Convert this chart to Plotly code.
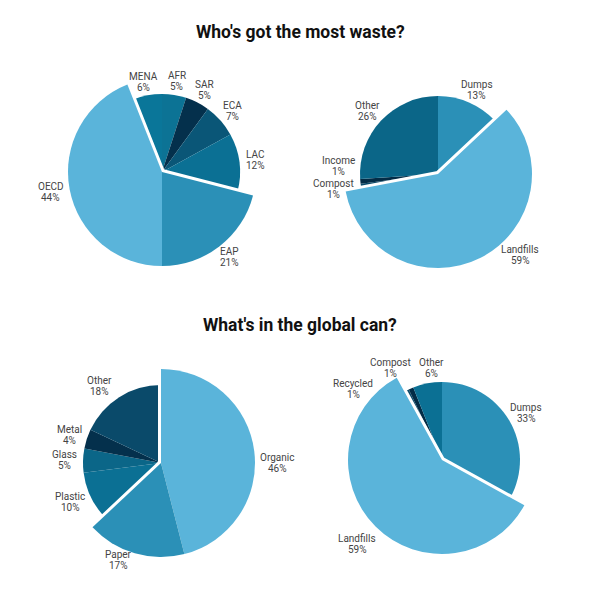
import math
import plotly.graph_objects as go

# ---- data ----
title_top = "Who's got the most waste?"
title_bottom = "What's in the global can?"

c1_labels = ["AFR", "SAR", "ECA", "LAC", "EAP", "OECD", "MENA"]
c1_values = [5, 5, 7, 12, 21, 44, 6]
c1_big = [False, False, False, False, True, True, False]
c1_colors = ["#0c7395", "#04304c", "#0a5677", "#0b7094", "#2b90b7", "#5ab4da", "#0a7699"]

c2_labels = ["Dumps", "Landfills", "Compost", "Income", "Other"]
c2_values = [13, 59, 1, 1, 26]
c2_big = [False, True, False, False, False]
c2_colors = ["#2b90b7", "#5ab4da", "#0a4a6a", "#032c46", "#0b6688"]

c3_labels = ["Organic", "Paper", "Plastic", "Glass", "Metal", "Other"]
c3_values = [46, 17, 10, 5, 4, 18]
c3_big = [True, True, False, False, False, False]
c3_colors = ["#5ab4da", "#2b90b7", "#0b7094", "#0b6688", "#04304c", "#0a4a6a"]

c4_labels = ["Dumps", "Landfills", "Recycled", "Compost", "Other"]
c4_values = [33, 59, 1, 1, 6]
c4_big = [False, True, False, False, False]
c4_colors = ["#2b90b7", "#5ab4da", "#0a4a6a", "#032c46", "#0b7094"]

# ---- layout / style ----
W = H = 600
R_BIG = 94
R_SMALL = 78
LABEL_GAP = 6
LINE_STEP = 11
TRANSP = "rgba(0,0,0,0)"
FONT = "Roboto"
LABEL_COLOR = "#444444"

# manual placement (relative to pie centre, px) for crowded / shifted labels
label_override = {
    (2, "Income"): (-99, -8),
    (2, "Compost"): (-105, 15),
    (2, "Landfills"): (82, 81),
    (3, "Other"): (-62, -77),
    (3, "Organic"): (116, 0),
    (3, "Paper"): (-43, 97),
    (4, "Recycled"): (-89, -71),
    (4, "Compost"): (-52, -92),
    (4, "Other"): (-11, -92),
    (4, "Landfills"): (-85, 84),
}


def text_w(s):
    w = 0.0
    for ch in s:
        if ch in "ilfjt":
            w += 3.2
        elif ch.isupper():
            w += 6.6
        elif ch.isdigit():
            w += 5.6
        elif ch == "%":
            w += 7.3
        else:
            w += 5.3
    return w


def dom(cx, cy, r):
    return dict(x=[(cx - r) / W, (cx + r) / W], y=[1 - (cy + r) / H, 1 - (cy - r) / H])


annotations = []


def add_pie(fig, idx, labels, values, big, colors, cx, cy):
    common = dict(labels=labels, values=values, sort=False, direction="clockwise",
                  rotation=0, showlegend=False, textinfo="none")
    fig.add_trace(go.Pie(
        **common, domain=dom(cx, cy, R_SMALL),
        marker=dict(colors=colors, line=dict(width=0)),
        hoverinfo="label+percent",
    ))
    fig.add_trace(go.Pie(
        **common, domain=dom(cx, cy, R_BIG),
        marker=dict(colors=[c if b else TRANSP for c, b in zip(colors, big)],
                    line=dict(color="white", width=[6 if b else 0 for b in big])),
        hoverinfo="skip",
    ))
    fig.add_trace(go.Pie(
        **common, domain=dom(cx, cy, R_BIG),
        marker=dict(colors=[c if b else TRANSP for c, b in zip(colors, big)],
                    line=dict(width=0)),
        hoverinfo="label+percent",
    ))
    total = float(sum(values))
    acc = 0.0
    for lab, v, b in zip(labels, values, big):
        mid = (acc + v / 2.0) / total * 2 * math.pi
        acc += v
        pct = f"{round(v / total * 100):d}%"
        r = (R_BIG if b else R_SMALL) + LABEL_GAP
        s, c = math.sin(mid), math.cos(mid)
        hw = max(text_w(lab), text_w(pct)) / 2.0
        hh = 8.0
        if (idx, lab) in label_override:
            dx, dy = label_override[(idx, lab)]
        else:
            dx = r * s + hw * s
            dy = -r * c - hh * c
        for line, off in ((lab, -LINE_STEP / 2.0), (pct, LINE_STEP / 2.0)):
            annotations.append(dict(
                text=line, x=(cx + dx) / W, y=1 - (cy + dy + off) / H,
                xref="paper", yref="paper", showarrow=False,
                xanchor="center", yanchor="middle", align="center",
                font=dict(family=FONT, size=10, color=LABEL_COLOR),
            ))


fig = go.Figure()
add_pie(fig, 1, c1_labels, c1_values, c1_big, c1_colors, 162, 172)
add_pie(fig, 2, c2_labels, c2_values, c2_big, c2_colors, 438, 174)
add_pie(fig, 3, c3_labels, c3_values, c3_big, c3_colors, 161, 463)
add_pie(fig, 4, c4_labels, c4_values, c4_big, c4_colors, 442, 460)

annotations += [
    dict(text=f"<b>{title_top}</b>", x=0.5, y=1 - 32 / H, xref="paper", yref="paper",
         showarrow=False, font=dict(family=FONT, size=17.5, color="#111111"),
         xanchor="center", yanchor="middle"),
    dict(text=f"<b>{title_bottom}</b>", x=0.5, y=1 - 325 / H, xref="paper", yref="paper",
         showarrow=False, font=dict(family=FONT, size=17.5, color="#111111"),
         xanchor="center", yanchor="middle"),
]

fig.update_layout(
    width=W, height=H, margin=dict(l=0, r=0, t=0, b=0),
    paper_bgcolor="white", plot_bgcolor="white",
    font=dict(family=FONT),
    annotations=annotations,
)
fig.write_html("out.html")
